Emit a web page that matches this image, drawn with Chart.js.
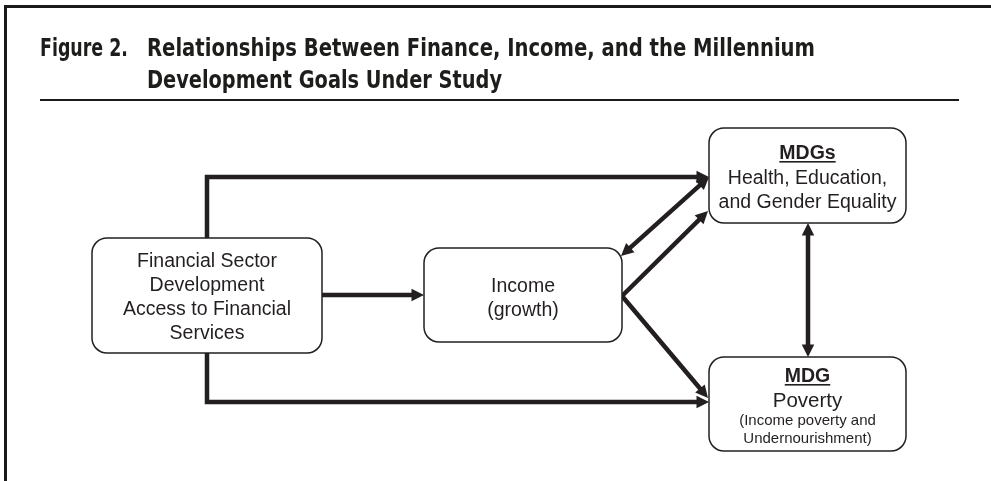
<!DOCTYPE html>
<html>
<head>
<meta charset="utf-8">
<script src="https://cdn.jsdelivr.net/npm/chart.js@4.4.1/dist/chart.umd.min.js"></script>
<style>
  html, body { margin: 0; padding: 0; background: #fff; }
  #wrap { position: relative; width: 991px; height: 481px; overflow: hidden; }
  #frameTop { position: absolute; left: 4px; top: 5px; width: 987px; height: 3px; background: #1a1a1a; }
  #frameLeft { position: absolute; left: 4px; top: 5px; width: 3px; height: 476px; background: #1a1a1a; }
  .title {
    position: absolute; white-space: nowrap; transform-origin: 0 0;
    font-family: "Liberation Sans Narrow", "DejaVu Sans Condensed", sans-serif;
    font-weight: bold; font-size: 24px; line-height: 24px; color: #1d1d1b;
  }
  #rule { position: absolute; left: 40px; top: 99px; width: 919px; height: 1.5px; background: #1a1a1a; }
  #chart { position: absolute; left: 0; top: 0; }
</style>
</head>
<body>
<div id="wrap">
  <canvas id="chart" width="991" height="481"></canvas>
  <div id="frameTop"></div>
  <div id="frameLeft"></div>
  <div class="title" id="t0" style="left:40px; top:36px;">Figure 2.</div>
  <div class="title" id="t1" style="left:147px; top:36px;">Relationships Between Finance, Income, and the Millennium</div>
  <div class="title" id="t2" style="left:147px; top:68px;">Development Goals Under Study</div>
  <div id="rule"></div>
</div>
<script>
// boxes (diagram units = pixels of the original figure)
const nodeNames  = ['finance', 'income', 'mdgs', 'mdg'];
const nodeLeft   = [92, 424, 709, 709];
const nodeRight  = [322, 622, 906, 906];
const nodeTop    = [238, 248, 128, 357];
const nodeBottom = [353, 342, 223, 451];

// labels inside the boxes
const financeLines = ['Financial Sector', 'Development', 'Access to Financial', 'Services'];
const incomeLines  = ['Income', '(growth)'];
const mdgsLines    = ['MDGs', 'Health, Education,', 'and Gender Equality'];
const mdgLines     = ['MDG', 'Poverty', '(Income poverty and', 'Undernourishment)'];

// connectors
const edgeTop       = [{x: 207, y: 238}, {x: 207, y: 177}, {x: 709, y: 177}];
const edgeToIncome  = [{x: 322, y: 295}, {x: 424, y: 295}];
const edgeBottom    = [{x: 207, y: 353}, {x: 207, y: 402}, {x: 709, y: 402}];
const edgeFeedback  = [{x: 621, y: 256}, {x: 709, y: 177}];
const edgeIncMdgs   = [{x: 622, y: 296}, {x: 708, y: 211}];
const edgeIncMdg    = [{x: 622, y: 296}, {x: 708, y: 398}];
const edgeMdgMdg    = [{x: 808, y: 223}, {x: 808, y: 357}];

const INK = '#231f20';
const FONT = '"Liberation Sans", Arial, Helvetica, sans-serif';
const HEAD = 12.5;

function edge(data, start, end) {
  return {
    data: data, showLine: true, borderColor: INK, borderWidth: 4.5,
    borderJoinStyle: 'miter', borderCapStyle: 'butt',
    pointRadius: 0, pointHoverRadius: 0, tension: 0,
    headStart: start, headEnd: end
  };
}

// shorten the line under an arrow head so the butt end does not poke out of the tip
function pullBack(pts, a, b) {
  const p = pts[a], q = pts[b];
  const saved = {el: p, x: p.x, y: p.y};
  const dx = p.x - q.x, dy = p.y - q.y, len = Math.hypot(dx, dy);
  p.x -= dx / len * HEAD * 0.7;
  p.y -= dy / len * HEAD * 0.7;
  return saved;
}

function drawHead(ctx, p, q) {
  const dx = p.x - q.x, dy = p.y - q.y, len = Math.hypot(dx, dy);
  const ux = dx / len, uy = dy / len;
  const bx = p.x - ux * HEAD, by = p.y - uy * HEAD;
  ctx.beginPath();
  ctx.moveTo(p.x, p.y);
  ctx.lineTo(bx - uy * HEAD / 2, by + ux * HEAD / 2);
  ctx.lineTo(bx + uy * HEAD / 2, by - ux * HEAD / 2);
  ctx.closePath();
  ctx.fill();
}

function roundRect(ctx, x0, y0, x1, y1, r) {
  ctx.beginPath();
  ctx.moveTo(x0 + r, y0);
  ctx.arcTo(x1, y0, x1, y1, r);
  ctx.arcTo(x1, y1, x0, y1, r);
  ctx.arcTo(x0, y1, x0, y0, r);
  ctx.arcTo(x0, y0, x1, y0, r);
  ctx.closePath();
}

function label(ctx, text, cx, base, size, bold, underline) {
  ctx.font = (bold ? 'bold ' : '') + size + 'px ' + FONT;
  ctx.fillText(text, cx, base);
  if (underline) {
    const w = ctx.measureText(text).width;
    ctx.fillRect(cx - w / 2, base + 2, w, 1.6);
  }
}

const diagram = {
  id: 'diagram',
  beforeDatasetsDraw(chart) {
    chart.data.datasets.forEach((ds, i) => {
      const pts = chart.getDatasetMeta(i).data;
      ds._saved = [];
      if (ds.headEnd) ds._saved.push(pullBack(pts, pts.length - 1, pts.length - 2));
      if (ds.headStart) ds._saved.push(pullBack(pts, 0, 1));
    });
  },
  afterDatasetsDraw(chart) {
    const ctx = chart.ctx;
    const sx = chart.scales.x, sy = chart.scales.y;
    chart.data.datasets.forEach(ds => {
      (ds._saved || []).forEach(s => { s.el.x = s.x; s.el.y = s.y; });
    });

    ctx.save();
    // boxes
    const cx = [];
    nodeNames.forEach((n, i) => {
      const x0 = sx.getPixelForValue(nodeLeft[i]), x1 = sx.getPixelForValue(nodeRight[i]);
      const y0 = sy.getPixelForValue(nodeTop[i]), y1 = sy.getPixelForValue(nodeBottom[i]);
      roundRect(ctx, x0, y0, x1, y1, 15);
      ctx.fillStyle = '#fff';
      ctx.fill();
      ctx.lineWidth = 1.5;
      ctx.strokeStyle = INK;
      ctx.stroke();
      cx.push((x0 + x1) / 2);
    });

    ctx.fillStyle = INK;
    ctx.textAlign = 'center';
    ctx.textBaseline = 'alphabetic';
    const Y = v => sy.getPixelForValue(v);
    [267, 291, 315, 338.5].forEach((b, k) => label(ctx, financeLines[k], cx[0], Y(b), 19.5));
    [291.5, 315.5].forEach((b, k) => label(ctx, incomeLines[k], cx[1], Y(b), 19.5));
    label(ctx, mdgsLines[0], cx[2], Y(159), 19.5, true, true);
    label(ctx, mdgsLines[1], cx[2], Y(184), 19.5);
    label(ctx, mdgsLines[2], cx[2], Y(207.5), 19.5);
    label(ctx, mdgLines[0], cx[3], Y(382), 19.5, true, true);
    label(ctx, mdgLines[1], cx[3], Y(406.5), 20.5);
    label(ctx, mdgLines[2], cx[3], Y(424.5), 15);
    label(ctx, mdgLines[3], cx[3], Y(442.5), 15);

    // arrow heads
    chart.data.datasets.forEach((ds, i) => {
      const pts = chart.getDatasetMeta(i).data;
      if (ds.headEnd) drawHead(ctx, pts[pts.length - 1], pts[pts.length - 2]);
      if (ds.headStart) drawHead(ctx, pts[0], pts[1]);
    });
    ctx.restore();
  }
};

new Chart(document.getElementById('chart'), {
  type: 'scatter',
  data: {
    datasets: [
      edge(edgeTop, false, true),
      edge(edgeToIncome, false, true),
      edge(edgeBottom, false, true),
      edge(edgeFeedback, true, true),
      edge(edgeIncMdgs, false, true),
      edge(edgeIncMdg, false, true),
      edge(edgeMdgMdg, true, true)
    ]
  },
  options: {
    responsive: false,
    devicePixelRatio: 1,
    animation: false,
    events: [],
    layout: { padding: 0 },
    scales: {
      x: { type: 'linear', min: 0, max: 991, display: false },
      y: { type: 'linear', min: 0, max: 481, reverse: true, display: false }
    },
    plugins: { legend: { display: false }, tooltip: { enabled: false }, title: { display: false } }
  },
  plugins: [diagram]
});

// squeeze the title lines to the widths they have in the figure
function fit(id, target) {
  const el = document.getElementById(id);
  const w = el.getBoundingClientRect().width;
  el.style.transform = 'scaleX(' + (target / w) + ')';
}
fit('t0', 88);
fit('t1', 668);
fit('t2', 355);
</script>
</body>
</html>
